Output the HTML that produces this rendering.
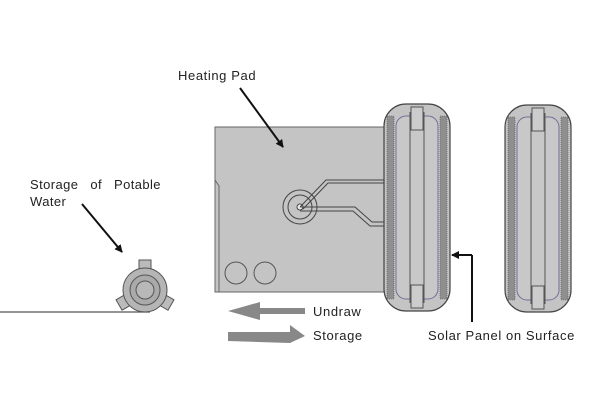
<!DOCTYPE html>
<html><head><style>body{margin:0;background:#fff}svg{display:block}</style></head><body>
<svg width="600" height="400" viewBox="0 0 600 400" xmlns="http://www.w3.org/2000/svg" font-family="Liberation Sans, sans-serif">
<defs>
<marker id="ah" markerWidth="8" markerHeight="8" refX="7" refY="4" orient="auto" markerUnits="userSpaceOnUse"><path d="M0,0 L8,4 L0,8 z" fill="#111"/></marker>
<g id="wheel">
 <rect x="0" y="0" width="66" height="207" rx="22" fill="#c4c4c4" stroke="#444" stroke-width="1.2"/>
 <rect x="3" y="12" width="7" height="183" fill="#8f8f8f" stroke="#555" stroke-width="0.6" stroke-dasharray="1 1"/>
 <rect x="56" y="12" width="7" height="183" fill="#8f8f8f" stroke="#555" stroke-width="0.6" stroke-dasharray="1 1"/>
 <rect x="12" y="12" width="42" height="183" rx="10" fill="#c8c8c8" stroke="#6f6f9a" stroke-width="1"/>
 <line x1="26" y1="8" x2="26" y2="199" stroke="#555" stroke-width="1"/>
 <line x1="40" y1="8" x2="40" y2="199" stroke="#555" stroke-width="1"/>
 <rect x="27" y="3" width="12" height="23" fill="#ccc" stroke="#555" stroke-width="1"/>
 <rect x="27" y="181" width="12" height="23" fill="#ccc" stroke="#555" stroke-width="1"/>
</g>
</defs>
<rect x="215" y="127" width="172" height="165" fill="#c4c4c4" stroke="#666" stroke-width="1"/>
<path d="M215,180 L219,186 V292" stroke="#666" fill="none"/>
<text x="178" y="80" font-size="13" letter-spacing="0.6" fill="#222">Heating Pad</text>
<line x1="240" y1="88" x2="283" y2="147" stroke="#111" stroke-width="2" marker-end="url(#ah)"/>
<circle cx="300" cy="207" r="17" fill="none" stroke="#444" stroke-width="1"/>
<circle cx="300" cy="207" r="12" fill="none" stroke="#444" stroke-width="1"/>
<circle cx="300" cy="207" r="3" fill="#eee" stroke="#444"/>
<path d="M300,207 L326,180 H387 M303,209 L328,183 H387 M300,207 H355 L372,222 H387 M300,211 H353 L370,226 H387" fill="none" stroke="#444" stroke-width="1"/>
<circle cx="236" cy="273" r="11" fill="none" stroke="#555"/>
<circle cx="265" cy="273" r="11" fill="none" stroke="#555"/>
<use href="#wheel" x="384" y="104"/>
<use href="#wheel" x="505" y="105"/>
<text x="30" y="189" font-size="13" letter-spacing="0.4" fill="#222" word-spacing="8">Storage of Potable</text>
<text x="30" y="206" font-size="13" letter-spacing="0.4" fill="#222">Water</text>
<line x1="82" y1="204" x2="122" y2="252" stroke="#111" stroke-width="2" marker-end="url(#ah)"/>
<line x1="0" y1="312" x2="150" y2="312" stroke="#555" stroke-width="1.2"/>
<g transform="translate(145,290)" stroke="#555" stroke-width="1">
 <g fill="#bbb">
 <rect x="-6" y="-30" width="12" height="12"/>
 <rect x="-6" y="-30" width="12" height="12" transform="rotate(120)"/>
 <rect x="-6" y="-30" width="12" height="12" transform="rotate(240)"/>
 </g>
 <circle r="22" fill="#b5b5b5"/>
 <circle r="15" fill="#aaa"/>
 <circle r="9" fill="#b8b8b8"/>
</g>
<polygon points="228,311 260,302 260,308 305,308 305,314 260,314 260,320" fill="#888"/>
<polygon points="228,332 290,332 290,325 305,336 290,343 228,341" fill="#888"/>
<text x="313" y="316" font-size="13" letter-spacing="0.6" fill="#222">Undraw</text>
<text x="313" y="340" font-size="13" letter-spacing="0.6" fill="#222">Storage</text>
<line x1="472" y1="255" x2="472" y2="322" stroke="#111" stroke-width="2"/>
<line x1="472" y1="255" x2="452" y2="255" stroke="#111" stroke-width="2" marker-end="url(#ah)"/>
<text x="428" y="340" font-size="13" letter-spacing="0.6" fill="#222">Solar Panel on Surface</text>
</svg>
</body></html>
